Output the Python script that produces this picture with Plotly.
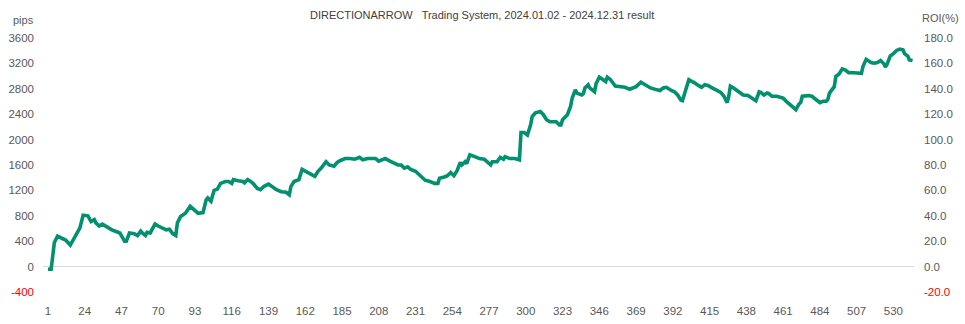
import plotly.graph_objects as go

# Trade number (x) and cumulative result in pips (y)
trade_no = [
    1, 3, 4, 5, 7, 12, 15, 18, 21, 23,
    26, 28, 30, 31, 33, 35, 38, 41, 44, 46,
    49, 50, 52, 55, 57, 59, 60, 62, 63, 65,
    66, 68, 70, 73, 75, 77, 79, 81, 82, 84,
    87, 90, 92, 95, 98, 100, 101, 103, 104, 105,
    107, 109, 112, 114, 116, 117, 120, 123, 124, 126,
    129, 132, 134, 136, 139, 141, 144, 147, 150, 152,
    153, 155, 158, 160, 162, 165, 168, 170, 172, 175,
    177, 180, 182, 184, 185, 187, 190, 193, 196, 198,
    201, 204, 206, 208, 212, 215, 220, 222, 224, 226,
    228, 231, 234, 237, 240, 243, 245, 246, 249, 251,
    253, 255, 257, 259, 260, 262, 263, 265, 268, 271,
    274, 276, 278, 279, 282, 284, 286, 287, 290, 293,
    296, 297, 299, 301, 303, 304, 306, 309, 311, 313,
    315, 319, 321, 322, 323, 326, 328, 329, 331, 332,
    335, 336, 337, 339, 340, 343, 344, 346, 348, 350,
    351, 353, 356, 359, 362, 365, 367, 369, 372, 374,
    377, 378, 382, 384, 386, 388, 391, 393, 395, 397,
    398, 400, 402, 404, 405, 408, 410, 412, 414, 416,
    418, 420, 422, 424, 426, 427, 428, 430, 433, 436,
    439, 442, 444, 446, 447, 449, 451, 452, 454, 457,
    461, 463, 466, 469, 471, 472, 473, 475, 477, 479,
    482, 484, 486, 488, 489, 490, 493, 494, 496, 498,
    500, 502, 505, 509, 510, 511, 513, 516, 518, 520,
    522, 524, 525, 526, 527, 528, 530, 532, 534, 536,
    537, 539, 540, 542,
]
cum_pips = [
    -40, -40, 170, 380, 480, 420, 340, 480, 610, 810,
    800, 710, 740, 690, 640, 670, 620, 580, 550, 530,
    400, 400, 530, 520, 490, 560, 530, 490, 540, 530,
    580, 670, 640, 610, 580, 590, 520, 490, 690, 790,
    840, 950, 900, 840, 850, 1050, 1080, 1030, 1120, 1200,
    1220, 1310, 1340, 1340, 1310, 1370, 1350, 1340, 1320, 1370,
    1320, 1230, 1210, 1260, 1300, 1260, 1210, 1180, 1170, 1130,
    1260, 1340, 1370, 1530, 1500, 1470, 1420, 1500, 1550, 1650,
    1600, 1580, 1640, 1670, 1680, 1700, 1700, 1690, 1720, 1680,
    1700, 1700, 1700, 1660, 1700, 1660, 1600, 1600, 1550, 1570,
    1530, 1500, 1420, 1360, 1340, 1310, 1310, 1390, 1410, 1430,
    1480, 1430, 1510, 1640, 1600, 1650, 1620, 1760, 1730, 1700,
    1690, 1650, 1600, 1650, 1650, 1720, 1690, 1730, 1700, 1700,
    1680, 2110, 2110, 2070, 2230, 2360, 2420, 2440, 2390, 2310,
    2280, 2280, 2230, 2230, 2310, 2390, 2520, 2650, 2780, 2730,
    2700, 2720, 2810, 2860, 2810, 2750, 2880, 2980, 2950, 2910,
    2980, 2940, 2840, 2830, 2820, 2790, 2810, 2830, 2900, 2870,
    2820, 2810, 2780, 2770, 2810, 2820, 2770, 2750, 2700, 2620,
    2610, 2780, 2940, 2910, 2900, 2850, 2820, 2860, 2850, 2820,
    2790, 2770, 2740, 2680, 2580, 2680, 2840, 2810, 2760, 2700,
    2690, 2650, 2610, 2750, 2740, 2700, 2730, 2720, 2680, 2680,
    2650, 2600, 2530, 2470, 2560, 2580, 2680, 2690, 2690, 2680,
    2630, 2580, 2600, 2600, 2630, 2730, 2830, 2990, 3030, 3110,
    3090, 3050, 3050, 3040, 3040, 3150, 3260, 3210, 3200, 3210,
    3240, 3190, 3140, 3180, 3260, 3310, 3350, 3400, 3420, 3410,
    3350, 3310, 3250, 3240,
]

x_ticks = list(range(1, 531, 23))
pips_ticks = [-400, 0, 400, 800, 1200, 1600, 2000, 2400, 2800, 3200, 3600]
roi_ticks = [-20, 0, 20, 40, 60, 80, 100, 120, 140, 160, 180]

TICK_COLOR = "#595959"
NEG_COLOR = "#FF0000"
LINE_COLOR = "#02916E"
FONT = "Liberation Sans"

ML, MR, MT, MB = 43, 51, 30, 24
W, H = 965, 324


def fmt(v, decimals):
    s = f"{v:.{decimals}f}"
    if v < 0:
        return f'<span style="color:{NEG_COLOR}">{s}</span>'
    return s


fig = go.Figure()
fig.add_trace(go.Scatter(
    x=trade_no, y=cum_pips, mode="lines",
    line=dict(color=LINE_COLOR, width=3.6),
    showlegend=False, hoverinfo="skip",
))
# Invisible anchor trace so the right axis is drawn
fig.add_trace(go.Scatter(x=[None], y=[None], yaxis="y2", showlegend=False, hoverinfo="skip"))

y_lo, y_hi = -523, 3721
tickfont = dict(family=FONT, size=11.5, color=TICK_COLOR)
fig.update_layout(
    width=W, height=H,
    margin=dict(l=ML, r=MR, t=MT, b=MB, autoexpand=False),
    paper_bgcolor="white", plot_bgcolor="white",
    font=dict(family=FONT, size=11.5, color=TICK_COLOR),
    showlegend=False,
    xaxis=dict(
        range=[-2.1, 542.9], showgrid=False, zeroline=False, showline=False,
        tickmode="array", tickvals=x_ticks, ticktext=[str(v) for v in x_ticks],
        ticks="", tickfont=tickfont, ticklabelstandoff=2, automargin=False,
    ),
    yaxis=dict(
        range=[y_lo, y_hi], showgrid=False, zeroline=True,
        zerolinecolor="#D9D9D9", zerolinewidth=1, showline=False,
        tickmode="array", tickvals=pips_ticks,
        ticktext=[fmt(v, 0) for v in pips_ticks],
        ticks="", tickfont=tickfont, ticklabelstandoff=8, automargin=False,
    ),
    yaxis2=dict(
        range=[y_lo / 20, y_hi / 20], overlaying="y", side="right",
        showgrid=False, zeroline=False, showline=False,
        tickmode="array", tickvals=roi_ticks,
        ticktext=[fmt(v, 1) for v in roi_ticks],
        ticks="", tickfont=tickfont, ticklabelstandoff=9, automargin=False,
    ),
)

pw = W - ML - MR
ph = H - MT - MB


def px_to_paper(px, py):
    return (px - ML) / pw, (H - py - MB) / ph


for text, px, py, size, color in [
    ("DIRECTIONARROW\u00a0\u00a0 Trading System, 2024.01.02 - 2024.12.31 result", 482, 15, 11, "#404040"),
    ("pips", 23, 20, 11, TICK_COLOR),
    ("ROI(%)", 940, 18, 11, TICK_COLOR),
]:
    ax, ay = px_to_paper(px, py)
    fig.add_annotation(text=text, x=ax, y=ay, xref="paper", yref="paper",
                       xanchor="center", yanchor="middle", showarrow=False,
                       font=dict(family=FONT, size=size, color=color))

fig.write_html("out.html")
